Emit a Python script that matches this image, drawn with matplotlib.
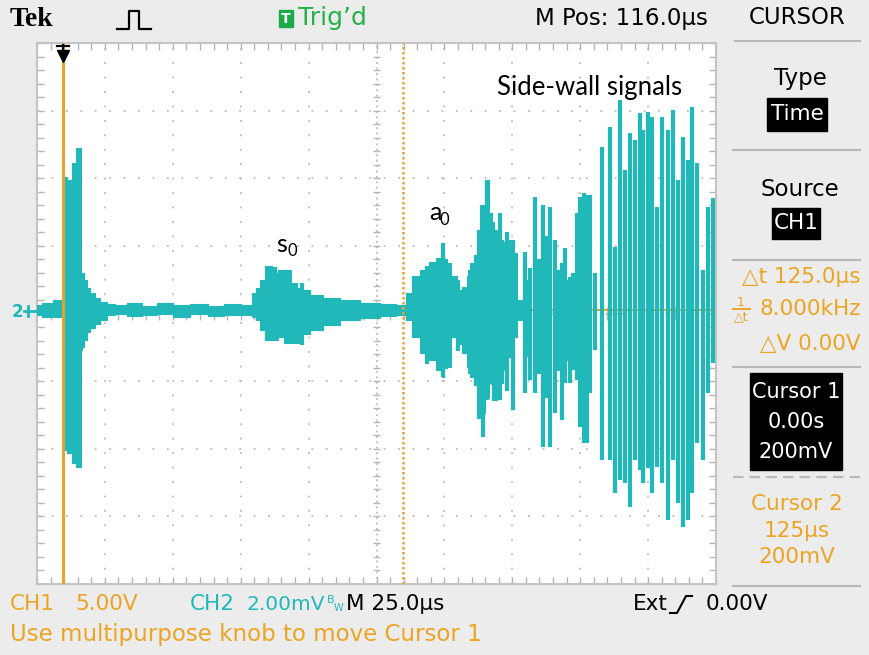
import matplotlib.pyplot as plt
import numpy as np
from matplotlib.patches import Rectangle

# CH2 trace: time in us (25 us/div), amplitude in mV (2 mV/div)
# dense part of the trace, given as upper / lower envelope
trace_t = [0, 4, 8, 9.4, 9.6, 12.2, 13.3, 15.1, 16.0, 16.2, 16.9, 17.7, 18.8, 20.3,
           22.1, 24.3, 26.9, 30.6, 36, 41.6, 47, 53, 60, 66, 72, 78.4, 80, 81.4, 82.8,
           85.1, 87.6, 89.5, 92.1, 95.0, 96.8, 98.7, 102.4, 107.9, 115.2, 122.6, 130,
           134.4, 137.3, 139.2, 142.9, 145.4, 148.4, 149.5, 150.5, 151.3, 153.9, 155.7,
           157.6, 158.7, 160.2, 161.3, 162.4, 163.9, 165.7, 166.8, 168.6, 170.5, 172.3,
           174.2, 176.0, 177.8, 179]
trace_hi = [0.15, 0.2, 0.3, 0.3, 3.93, 3.84, 4.35, 4.79, 4.79, 1.09, 1.09, 0.89, 0.65,
            0.50, 0.35, 0.24, 0.18, 0.15, 0.2, 0.12, 0.2, 0.15, 0.18, 0.12, 0.18, 0.15,
            0.5, 0.65, 0.9, 1.3, 1.1, 1.2, 1.18, 0.8, 0.65, 0.59, 0.44, 0.35, 0.30, 0.21,
            0.18, 0.15, 0.5, 1.0, 1.18, 1.42, 1.54, 1.98, 1.5, 1.39, 1.0, 0.6, 0.68, 1.0,
            1.4, 1.63, 2.37, 3.1, 3.84, 2.87, 2.37, 2.07, 2.0, 2.07, 1.7, 0.3, 0.15]
trace_lo = [-0.15, -0.2, -0.2, -0.2, -4.14, -4.23, -4.52, -4.64, -4.64, -1.18, -1.09,
            -0.89, -0.65, -0.53, -0.40, -0.30, -0.15, -0.12, -0.18, -0.15, -0.12, -0.2,
            -0.12, -0.18, -0.15, -0.15, -0.21, -0.3, -0.6, -0.89, -0.89, -0.80, -0.98,
            -0.98, -0.98, -0.7, -0.59, -0.44, -0.30, -0.24, -0.18, -0.15, -0.30, -0.8,
            -1.27, -1.48, -1.77, -1.98, -1.7, -1.69, -0.80, -1.0, -1.27, -1.69, -1.98,
            -2.2, -3.2, -3.05, -2.6, -2.16, -2.66, -2.16, -1.77, -1.39, -0.80, -0.3, -0.15]

# separate vertical strokes (s0 / a0 spikes and side-wall signals)
burst_t = [85.1, 87.6, 92.1, 93.2, 97.4, 143.6, 149.5, 155.0, 159.5, 164.2, 165.7, 168.0,
           170.5, 173.0, 175.3, 179.7, 180.6, 181.5, 183.4, 184.9, 186.3, 187.6, 188.9,
           190.7, 191.9, 193.3, 194.4, 195.3, 196.3, 197.4, 198.8, 199.9, 201.4, 202.5,
           203.6, 205.5, 208.0, 211.0, 212.8, 214.7, 216.5, 218.3, 220.2, 222.0, 223.1,
           225.0, 226.4, 228.3, 230.1, 232.3, 234.2, 236.0, 237.9, 239.7, 241.2, 243.0,
           245.2, 247.1, 248.9]
burst_hi = [1.24, 1.27, 1.18, 0.6, 0.8, 1.3, 1.98, 0.9, 1.2, 2.4, 3.84, 2.6, 2.87, 2.3,
            2.07, 1.71, 0.9, 1.24, 3.34, 1.5, 3.10, 2.2, 3.05, 2.07, 1.2, 1.39, 1.83, 0.9,
            0.98, 1.09, 2.87, 3.34, 3.46, 3.40, 3.40, 1.09, 4.82, 5.41, 1.86, 6.21, 4.14,
            5.23, 5.03, 5.83, 5.32, 5.86, 5.71, 3.05, 5.71, 5.32, 5.91, 3.84, 5.12, 4.44,
            6.00, 4.35, 1.18, 3.05, 3.31]
burst_lo = [-0.5, -0.6, -0.5, -0.89, -1.03, -1.6, -1.98, -1.2, -1.9, -3.76, -2.66, -2.2,
            -2.66, -2.4, -2.96, -2.45, -1.4, -2.07, -2.45, -1.9, -4.05, -2.6, -4.05,
            -3.05, -1.8, -3.25, -2.16, -1.5, -2.16, -1.77, -2.07, -3.46, -3.93, -3.93,
            -2.45, -1.18, -4.44, -4.44, -5.41, -5.03, -5.12, -5.83, -4.44, -4.73, -5.12,
            -4.67, -5.41, -4.64, -5.12, -6.21, -4.44, -5.71, -6.42, -6.21, -5.41, -3.93,
            -4.44, -2.45, -1.57]

cursor_t = [9.6, 134.6]

W, H = 869, 655
teal = '#20b8b8'
orange = '#eca424'
grey = '#bcbcbc'
sfont = ['DejaVu Sans']
fs = 16.5

fig = plt.figure(figsize=(W / 100, H / 100), dpi=100, facecolor='#ececec')

# scope graticule
L, T, R, B = 37, 43, 716, 584
ax = fig.add_axes([L / W, 1 - B / H, (R - L) / W, (B - T) / H])
ax.set_facecolor('white')
ax.set_xlim(0, 250)
ax.set_ylim(-8.1, 7.9)
for s in ax.spines.values():
    s.set_color('#c4c4c4')
    s.set_linewidth(1.5)
ax.set_xticks(np.arange(0, 251, 5))
ax.set_yticks(np.arange(-8.1, 7.95, 0.4))
ax.tick_params(direction='in', length=5, width=1, color='#b4b4b4',
               top=True, right=True, labelbottom=False, labelleft=False)

for x in range(25, 250, 25):
    ls = (0, (1, 2)) if x == 125 else (0, (1, 7))
    ax.axvline(x, color=grey, lw=1.3, ls=ls, zorder=1)
for y in np.arange(-6.1, 7.0, 2):
    ls = (0, (1, 2)) if abs(y + 0.1) < 0.01 else (0, (1, 7))
    ax.axhline(y, color=grey, lw=1.3, ls=ls, zorder=1)
ax.vlines(np.arange(5, 250, 5), -0.28, 0.08, color='#b4b4b4', lw=1, zorder=1)
ax.hlines(np.arange(-8.1, 7.95, 0.4), 123.8, 126.2, color='#b4b4b4', lw=1, zorder=1)

# CH1 trace (flat) under the CH2 signal
ax.axhline(0, color=orange, lw=1.5, zorder=2)
ax.fill_between(trace_t, trace_lo, trace_hi, step='mid', color=teal, lw=0.8,
                edgecolor=teal, zorder=3)
ax.vlines(burst_t, burst_lo, burst_hi, color=teal, lw=3.0, zorder=3)

# cursors
ax.axvline(cursor_t[0], color='#e6a332', lw=2.2, zorder=4)
ax.axvline(cursor_t[1], color='#e6a332', lw=1.8, ls=(0, (1, 1)), zorder=4)

# overlay in pixel coordinates for all screen text
ov = fig.add_axes([0, 0, 1, 1], zorder=5)
ov.set_xlim(0, W)
ov.set_ylim(H, 0)
ov.axis('off')


def txt(x, y, s, color='black', size=fs, ha='left', **kw):
    fam = kw.pop('family', sfont)
    ov.text(x, y, s, color=color, fontsize=size, ha=ha, va='center', family=fam, **kw)


# top bar
txt(10, 20, 'Tek', size=20, family=['Liberation Serif', 'DejaVu Serif'], weight='bold')
ov.plot([117, 129, 129, 139, 139, 151], [29, 29, 11, 11, 29, 29], color='black', lw=1.6)
ov.add_patch(Rectangle((279, 10), 14, 17, color='#1faa48'))
txt(286, 19, 'T', color='white', size=10, ha='center', weight='bold')
txt(298, 18, 'Trig’d', color='#25b04a', size=18)
txt(535, 18, 'M Pos: 116.0µs')
txt(797, 18, 'CURSOR', ha='center')
ov.plot([735, 860], [41, 41], color='#b8b8b8', lw=1.5)

# trigger marker and CH2 ground marker
ov.plot([63, 63], [45, 56], color='black', lw=1.6)
ov.plot([57, 69], [46, 46], color='black', lw=1.6)
ov.plot(63, 56, marker='v', ms=8, color='black')
txt(12, 312, '2', color=teal, size=12, weight='bold')
ov.plot([24, 37], [311, 311], color=teal, lw=2)
ov.plot([28, 28], [306, 316], color=teal, lw=2)

# side menu
txt(800, 79, 'Type', ha='center')
ov.add_patch(Rectangle((767, 98), 60, 33, color='black'))
txt(797, 114, 'Time', color='white', ha='center', size=15.5)
ov.plot([733, 860], [150, 150], color='#b8b8b8', lw=1.5)
txt(800, 189, 'Source', ha='center')
ov.add_patch(Rectangle((772, 208), 48, 31, color='black'))
txt(796, 223, 'CH1', color='white', ha='center', size=15.5)
ov.plot([733, 860], [260, 260], color='#b8b8b8', lw=1.5)
txt(861, 277, '△t 125.0µs', color=orange, ha='right', size=15.5)
txt(741, 302, '1', color=orange, size=9, ha='center')
ov.plot([733, 750], [309, 309], color=orange, lw=1.4)
txt(741, 317, '△t', color=orange, size=9, ha='center')
txt(861, 309, '8.000kHz', color=orange, ha='right', size=15.5)
txt(861, 344, '△V 0.00V', color=orange, ha='right', size=15.5)
ov.plot([733, 860], [367, 367], color='#b8b8b8', lw=1.5)
ov.add_patch(Rectangle((750, 373), 92, 97, color='black'))
txt(796, 392, 'Cursor 1', color='white', ha='center', size=15)
txt(796, 422, '0.00s', color='white', ha='center', size=15)
txt(796, 452, '200mV', color='white', ha='center', size=15)
ov.plot([733, 860], [477, 477], color='#b8b8b8', lw=1.5, ls=(0, (5, 3)))
txt(797, 504, 'Cursor 2', color=orange, ha='center', size=15.5)
txt(797, 531, '125µs', color=orange, ha='center', size=15.5)
txt(797, 557, '200mV', color=orange, ha='center', size=15.5)
ov.plot([733, 860], [586, 586], color='#b8b8b8', lw=1.5)

# bottom status line
bs = 15.5
txt(10, 604, 'CH1', color=orange, size=bs)
txt(75, 604, '5.00V', color=orange, size=bs)
txt(190, 604, 'CH2', color=teal, size=bs)
txt(325, 604, '2.00mV', color=teal, ha='right', size=14.5)
txt(327, 600, 'B', color=teal, size=8)
txt(334, 608, 'W', color=teal, size=7)
txt(346, 604, 'M 25.0µs', size=bs)
txt(633, 604, 'Ext', size=bs)
ov.plot([670, 677, 686, 692], [613, 613, 596, 596], color='black', lw=1.5)
txt(706, 604, '0.00V', size=bs)
txt(10, 634, 'Use multipurpose knob to move Cursor 1', color=orange)

# annotations
afont = ['Lato', 'DejaVu Sans']
txt(497, 87, 'Side-wall signals', size=18.5, family=afont)
txt(276, 244, 's', size=18, family=afont)
txt(287, 251, '0', size=12, family=afont)
txt(429, 213, 'a', size=18, family=afont)
txt(440, 220, '0', size=12, family=afont)

fig.savefig('out.png', dpi=100, facecolor=fig.get_facecolor())
